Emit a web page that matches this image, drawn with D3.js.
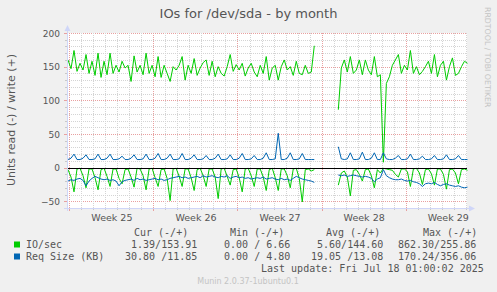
<!DOCTYPE html>
<html><head><meta charset="utf-8">
<script src="https://cdn.jsdelivr.net/npm/d3@7"></script>
<style>
body{margin:0;background:#F0F0F0;}
svg{display:block;}
text{white-space:pre;}
</style>
</head><body>
<svg id="c" width="497" height="292"></svg>
<script>
// ---------- DATA ----------
const seriesStart = Date.UTC(2025, 5, 15, 21, 24); // first sample
const stepHours = 6;
const N = null;
// IO/sec write (+)
const ioWrite = [160,147,174,143,155,145,168,140,158,137,
170,134,158,138,170,140,152,142,158,148,
152,128,166,142,152,138,170,140,152,135,
165,134,152,140,128,150,145,152,165,130,
152,140,162,137,148,156,160,137,158,135,
150,140,136,150,168,143,153,145,155,136,
148,155,142,135,152,140,165,130,148,152,
130,150,160,145,150,137,158,140,138,152,
140,142,181,N,N,N,N,N,N,N,
86,148,160,142,165,140,145,160,138,160,
145,138,165,135,138,8,125,135,152,160,
168,140,152,145,174,140,150,138,143,150,
158,140,168,135,152,158,130,150,163,137,
140,150,158,155];
// IO/sec read (-), magnitudes
const ioRead = [3,14,36,2,1,12,30,2,2,15,
33,3,1,13,28,2,2,16,24,3,
2,14,29,1,2,12,33,2,1,15,
28,3,2,16,49,2,1,13,28,2,
2,15,34,3,1,12,28,2,2,14,
46,2,1,13,26,3,2,15,36,2,
1,12,28,2,2,14,34,3,1,15,
34,2,2,12,30,2,1,16,51,3,
2,5,3,N,N,N,N,N,N,N,
26,8,5,14,42,4,3,10,20,3,
2,12,30,3,8,1,2,3,4,10,
14,2,2,6,28,2,1,8,25,3,
2,9,26,2,2,10,32,3,2,8,
24,3,2,4];
// Req Size (KB) write (+)
const reqWrite = [12,14,20,12,12,14,19,12,12,13,
20,12,12,14,20,12,12,13,17,12,
12,14,19,12,12,13,20,12,12,14,
21,12,12,14,20,12,12,13,21,12,
12,14,19,12,12,13,18,12,12,14,
20,12,12,13,19,12,12,14,21,12,
12,13,18,12,12,14,22,12,12,13,
51,12,12,14,22,12,12,13,21,12,
12,12,12,N,N,N,N,N,N,N,
31,13,12,13,22,12,12,13,23,12,
12,14,22,12,12,22,13,12,12,14,
18,12,12,13,20,12,12,13,17,12,
12,13,18,12,12,13,19,12,12,13,
18,12,12,12];
// Req Size (KB) read (-), magnitudes
const reqRead = [20,18,19,17,16,19,27,20,16,13,
15,17,18,17,19,18,20,27,21,19,
18,17,19,16,18,17,19,18,17,16,
18,17,19,18,16,15,14,13,15,14,
16,15,14,13,15,12,14,13,12,14,
15,13,14,12,16,14,13,15,14,16,
15,17,16,15,16,14,17,16,15,17,
18,16,18,17,19,16,13,15,17,18,
19,20,22,N,N,N,N,N,N,N,
11,12,11,13,12,11,12,13,14,13,
14,16,21,17,15,3,12,15,17,18,
18,17,19,20,19,21,22,24,28,24,
23,24,22,25,27,25,24,26,27,28,
27,29,30,29];

const yTicks = [-50, 0, 50, 100, 150, 200];
const titleText = "IOs for /dev/sda - by month";
const yLabel = "Units read (-) / write (+)";
const legendNames = ["IO/sec", "Req Size (KB)"];
const legendHeaders = ["Cur (-/+)", "Min (-/+)", "Avg (-/+)", "Max (-/+)"];
const curVals = [[1.39, 153.91], [30.80, 11.85]];
const minVals = [[0.00, 6.66], [0.00, 4.80]];
const avgVals = [[5.60, 144.60], [19.05, 13.08]];
const maxVals = [[862.30, 255.86], [170.24, 356.06]];
const lastUpdate = "Last update: Fri Jul 18 01:00:02 2025";
const credit = "Munin 2.0.37-1ubuntu0.1";
const watermark = "RRDTOOL / TOBI OETIKER";

// ---------- DRAW ----------
const W = 497, H = 292;
const P = {l: 67, r: 467, t: 33, b: 208};
const GREEN = "#00CC00", BLUE = "#0066B3", TXT = "#555555";
const svg = d3.select("#c");
svg.append("rect").attr("width", W).attr("height", H).attr("fill", "#F0F0F0");

const x = d3.scaleUtc()
  .domain([Date.UTC(2025, 5, 15, 19, 24), Date.UTC(2025, 6, 19, 2, 28)])
  .range([P.l, P.r]);
const y = d3.scaleLinear().domain([-60, 200]).range([P.b, P.t]);

svg.append("rect").attr("x", P.l).attr("y", P.t).attr("width", P.r - P.l).attr("height", P.b - P.t).attr("fill", "#FFFFFF");

const g = svg.append("g").attr("shape-rendering", "crispEdges");
// horizontal grid
const minorY = d3.range(-50, 201, 10).filter(v => v % 50 !== 0);
minorY.forEach(v => {
  const yy = Math.round(y(v)) + 0.5;
  g.append("line").attr("x1", P.l).attr("x2", P.r).attr("y1", yy).attr("y2", yy)
    .attr("stroke", "#D4D4D4").attr("stroke-dasharray", "1,1");
  g.append("line").attr("x1", P.l - 2).attr("x2", P.l).attr("y1", yy).attr("y2", yy).attr("stroke", "#C8C8C8");
});
yTicks.forEach(v => {
  const yy = Math.round(y(v)) + 0.5;
  g.append("line").attr("x1", P.l).attr("x2", P.r).attr("y1", yy).attr("y2", yy)
    .attr("stroke", "#E8A0A0").attr("stroke-dasharray", "1,1");
  g.append("line").attr("x1", P.l - 3).attr("x2", P.l).attr("y1", yy).attr("y2", yy).attr("stroke", "#E8A0A0");
});
// vertical grid
const days = d3.utcDay.range(x.domain()[0], x.domain()[1]);
days.forEach(d => {
  const xx = Math.round(x(d)) + 0.5;
  const major = d.getUTCDay() === 1;
  const col = major ? "#E8A0A0" : "#D4D4D4";
  g.append("line").attr("x1", xx).attr("x2", xx).attr("y1", P.t).attr("y2", P.b)
    .attr("stroke", col).attr("stroke-dasharray", "1,1");
  g.append("line").attr("x1", xx).attr("x2", xx).attr("y1", P.b).attr("y2", P.b + (major ? 3 : 2))
    .attr("stroke", major ? "#E8A0A0" : "#C8C8C8");
});

// data lines
function series(arr, sign) {
  return arr.map((v, i) => ({t: new Date(seriesStart + i * stepHours * 3600e3), v: v == null ? null : sign * v}));
}
const line = d3.line().defined(d => d.v != null).x(d => x(d.t)).y(d => y(d.v));
const dg = svg.append("g").attr("fill", "none").attr("stroke-width", 1).attr("stroke-linejoin", "round");
dg.append("path").attr("d", line(series(ioRead, -1))).attr("stroke", GREEN);
dg.append("path").attr("d", line(series(ioWrite, 1))).attr("stroke", GREEN);
dg.append("path").attr("d", line(series(reqRead, -1))).attr("stroke", BLUE);
dg.append("path").attr("d", line(series(reqWrite, 1))).attr("stroke", BLUE);

// zero line
const y0 = Math.round(y(0)) + 0.5;
svg.append("line").attr("x1", P.l).attr("x2", P.r).attr("y1", y0).attr("y2", y0)
  .attr("stroke", "#000").attr("stroke-width", 1).attr("shape-rendering", "crispEdges");

// axes lines + arrows
const AX = "#CFD6F8";
svg.append("line").attr("x1", P.l + 0.5).attr("x2", P.l + 0.5).attr("y1", P.b + 3).attr("y2", P.t - 4)
  .attr("stroke", AX).attr("shape-rendering", "crispEdges");
svg.append("line").attr("x1", P.l - 3).attr("x2", P.r + 4).attr("y1", P.b + 0.5).attr("y2", P.b + 0.5)
  .attr("stroke", AX).attr("shape-rendering", "crispEdges");
svg.append("path").attr("d", `M${P.l - 2.5},${P.t - 2}L${P.l + 3.5},${P.t - 2}L${P.l + 0.5},${P.t - 8}Z`).attr("fill", AX);
svg.append("path").attr("d", `M${P.r + 2},${P.b - 2.5}L${P.r + 2},${P.b + 3.5}L${P.r + 8},${P.b + 0.5}Z`).attr("fill", AX);

// y tick labels via axis
const ya = svg.append("g").attr("transform", `translate(${P.l - 7},0)`)
  .call(d3.axisLeft(y).tickValues(yTicks).tickSize(0).tickPadding(0).tickFormat(d3.format("d")));
ya.select(".domain").remove();
ya.selectAll("text").attr("font-family", "DejaVu Sans").attr("font-size", 9).attr("fill", TXT).attr("dy", "0.34em");

// week labels via axis
const mondays = d3.utcMonday.range(x.domain()[0], x.domain()[1]);
const weekCenters = mondays.map(m => new Date(+m + 3.5 * 864e5)).filter(d => d < x.domain()[1]);
const xa = svg.append("g").attr("transform", `translate(0,${P.b})`)
  .call(d3.axisBottom(x).tickValues(weekCenters).tickSize(0).tickPadding(0)
    .tickFormat(d => "Week " + d3.utcFormat("%V")(d)));
xa.select(".domain").remove();
xa.selectAll("text").attr("font-family", "DejaVu Sans").attr("font-size", 9.5).attr("fill", TXT)
  .attr("dy", null).attr("y", 13);

// title
svg.append("text").attr("x", 248.5).attr("y", 18).attr("text-anchor", "middle")
  .attr("font-family", "DejaVu Sans").attr("font-size", 13).attr("fill", TXT).text(titleText);
// y label
svg.append("text").attr("transform", "translate(14.5,120) rotate(-90)").attr("text-anchor", "middle")
  .attr("font-family", "DejaVu Sans").attr("font-size", 11).attr("fill", TXT).text(yLabel);
// watermark
svg.append("text").attr("transform", "translate(484.5,7) rotate(90)").attr("text-anchor", "start")
  .attr("font-family", "DejaVu Sans").attr("font-size", 7.8).attr("fill", "#C4C4C4").text(watermark);

// legend
const mono = "DejaVu Sans Mono";
const lg = svg.append("g").attr("font-family", mono).attr("font-size", 10).attr("fill", TXT);
const headX = [134, 230, 326, 423];
legendHeaders.forEach((h, i) => lg.append("text").attr("x", headX[i]).attr("y", 235.5).text(h));
const colA = [119, 212, 305, 398];
const f = d3.format("6.2f");
const cols = [curVals, minVals, avgVals, maxVals];
const colors = [GREEN, BLUE];
function cell(a, b) {
  const A = f(a), B = f(b);
  return B[0] === " " ? A + " /" + B.slice(1) : A + "/" + B;
}
legendNames.forEach((name, r) => {
  const by = 248 + r * 12;
  svg.append("rect").attr("x", 14).attr("y", by - 6.5).attr("width", 6).attr("height", 6).attr("fill", colors[r]);
  lg.append("text").attr("x", 26).attr("y", by).text(name);
  cols.forEach((c, ci) => {
    lg.append("text").attr("x", colA[ci]).attr("y", by).text(cell(c[r][0], c[r][1]));
  });
});
lg.append("text").attr("x", 261).attr("y", 272).text(lastUpdate);
svg.append("text").attr("x", 248).attr("y", 284).attr("text-anchor", "middle")
  .attr("font-family", "DejaVu Sans").attr("font-size", 8).attr("fill", "#C4C4C4").text(credit);
</script>
</body></html>
